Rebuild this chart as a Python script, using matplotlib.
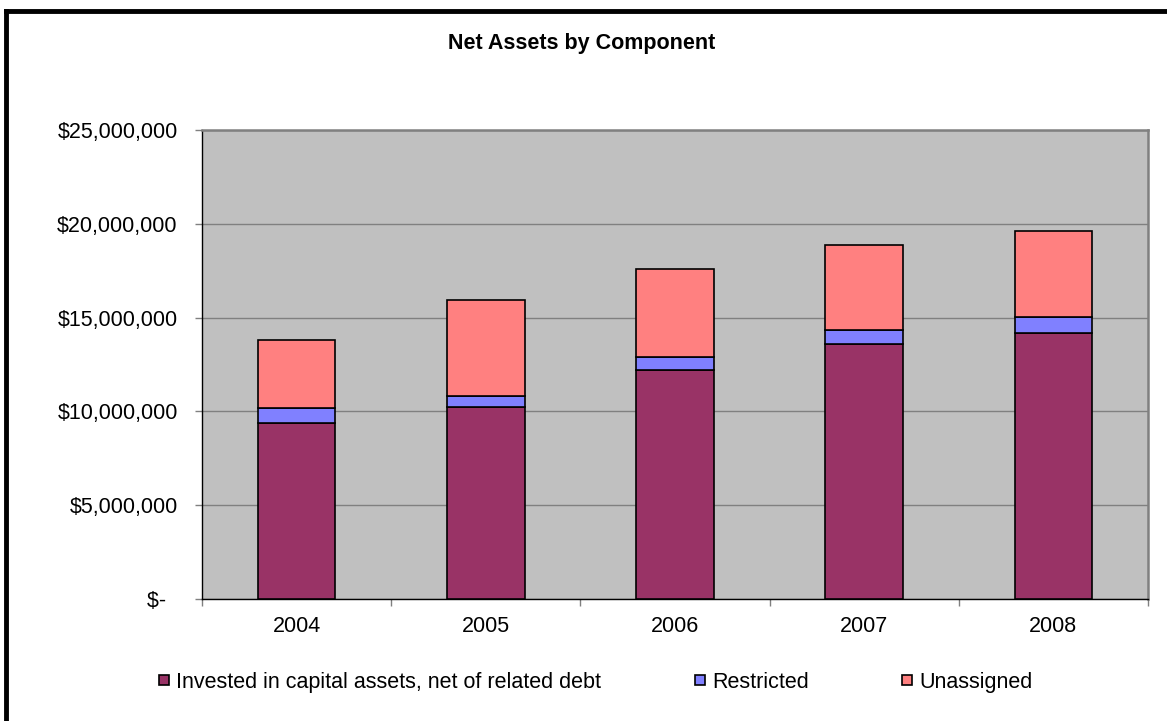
import matplotlib.pyplot as plt
import numpy as np
from matplotlib.lines import Line2D
from matplotlib.patches import Rectangle
from matplotlib.ticker import FuncFormatter, FixedLocator

plt.rcParams['font.family'] = ['Liberation Sans', 'DejaVu Sans']

years = ['2004', '2005', '2006', '2007', '2008']
invested = [9_400_000, 10_220_000, 12_200_000, 13_610_000, 14_180_000]
restricted = [780_000, 600_000, 700_000, 750_000, 870_000]
unassigned = [3_620_000, 5_120_000, 4_690_000, 4_510_000, 4_570_000]

series_names = ['Invested in capital assets, net of related debt', 'Restricted', 'Unassigned']
series_colors = ['#993366', '#8080FF', '#FF8080']

FS = 15.5
W, H = 1167, 721

fig = plt.figure(figsize=(W / 100, H / 100), dpi=100)
ax = fig.add_axes([0.1731, 0.1692, 0.8106, 0.6505])
ax.set_facecolor('#C0C0C0')

x = np.arange(len(years))
bottom = np.zeros(len(years))
for vals, col in zip([invested, restricted, unassigned], series_colors):
    ax.bar(x, vals, width=0.41, bottom=bottom, color=col, edgecolor='black',
           linewidth=1.2, zorder=3)
    bottom += np.array(vals)

ax.set_xlim(-0.5, len(years) - 0.5)
ax.set_ylim(0, 25_000_000)
ax.set_yticks(np.arange(0, 25_000_001, 5_000_000))


def money(v, pos):
    if v == 0:
        return '$-  '
    return '${:,.0f}'.format(v)


ax.yaxis.set_major_formatter(FuncFormatter(money))
ax.grid(axis='y', color='#808080', linewidth=1.0, zorder=1)

ax.set_xticks(x)
ax.set_xticklabels(years)
ax.xaxis.set_minor_locator(FixedLocator(np.arange(-0.5, len(years), 1.0)))
ax.tick_params(axis='x', which='major', length=0, pad=12, labelsize=FS)
ax.tick_params(axis='x', which='minor', length=5, color='#808080', width=1)
ax.tick_params(axis='y', length=5, color='#808080', width=1, pad=12.5, labelsize=FS)

for side in ['top', 'right']:
    ax.spines[side].set_color('#808080')
    ax.spines[side].set_linewidth(1.8)
ax.spines['left'].set_color('black')
ax.spines['bottom'].set_color('black')
ax.spines['left'].set_linewidth(1.0)
ax.spines['bottom'].set_linewidth(1.0)

fig.text(0.498, 1 - 43 / H, 'Net Assets by Component', ha='center', va='center',
         fontsize=FS, fontweight='bold')

# legend row: small square key followed by the series name, names share one baseline
legend_x = [159, 695, 902]
key_mid = 680
for lx, name, col in zip(legend_x, series_names, series_colors):
    fig.add_artist(Rectangle((lx / W, 1 - (key_mid + 5) / H), 10 / W, 10 / H,
                             facecolor=col, edgecolor='black', linewidth=1.2,
                             transform=fig.transFigure))
    fig.text((lx + 17) / W, 1 - (key_mid + 8) / H, name, ha='left', va='baseline',
             fontsize=FS)

# chart frame
fig.add_artist(Line2D([6 / W, 6 / W], [0, 1 - 11 / H], color='black', linewidth=3.5))
fig.add_artist(Line2D([6 / W, 1], [1 - 11 / H, 1 - 11 / H], color='black', linewidth=3.5))

fig.savefig('out.png', dpi=100)
